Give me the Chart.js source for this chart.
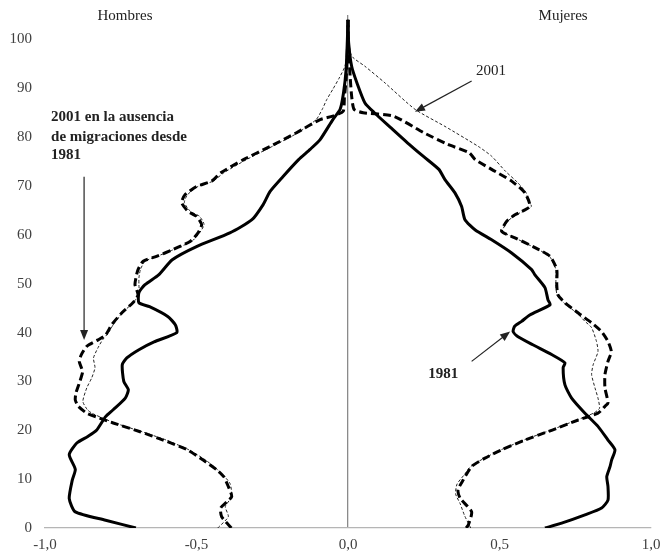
<!DOCTYPE html>
<html>
<head>
<meta charset="utf-8">
<script src="https://cdn.jsdelivr.net/npm/chart.js@4/dist/chart.umd.min.js"></script>
<style>
  body { margin: 0; background: #fff; }
  #wrap { width: 662px; height: 555px; }
</style>
</head>
<body>
<div id="wrap"><canvas id="pyramid"></canvas></div>
<script>
// Hombres (valores negativos), edad en el eje vertical
const menAge1981 = [0, 1.6, 3.3, 6, 9.8, 12, 15, 17.4, 18.7, 20, 22.8, 24.2, 26.6, 28.3, 30, 33.4, 34.8, 36.5, 38.1, 40, 41.6, 43.3, 45.3, 46.1, 48.2, 49.8, 51.8, 54.9, 57.6, 60.4, 63.1, 66.2, 68.9, 71.9, 75.4, 77.5, 79.5, 83.6, 85.7, 89, 94, 100, 104];
const men1981 = [-0.70, -0.80, -0.90, -0.92, -0.91, -0.90, -0.92, -0.895, -0.86, -0.83, -0.80, -0.775, -0.735, -0.725, -0.74, -0.745, -0.73, -0.69, -0.64, -0.565, -0.57, -0.595, -0.655, -0.69, -0.69, -0.67, -0.625, -0.58, -0.50, -0.39, -0.317, -0.28, -0.257, -0.215, -0.163, -0.125, -0.092, -0.05, -0.026, -0.015, -0.006, -0.002, 0];

const menAgeNoMig = [0, 2.3, 4.1, 6.4, 8.5, 10.5, 11.9, 13.9, 16, 18, 19.7, 21.5, 22.5, 23.5, 24.9, 26.2, 27.6, 30, 32, 34.1, 35.5, 37.2, 38.5, 39.5, 41.6, 44, 46.1, 47.7, 49.8, 51.2, 52.9, 54.6, 55.6, 57, 58.7, 60.4, 62.1, 63.8, 64.8, 66.6, 68.2, 69.9, 71, 72.7, 75.4, 78.1, 80.9, 83.6, 84.3, 85.3, 88, 92, 96, 100, 104];
const menNoMig = [-0.385, -0.417, -0.42, -0.384, -0.395, -0.41, -0.433, -0.478, -0.53, -0.61, -0.686, -0.775, -0.82, -0.862, -0.89, -0.90, -0.898, -0.885, -0.876, -0.887, -0.88, -0.862, -0.825, -0.80, -0.78, -0.747, -0.71, -0.693, -0.703, -0.70, -0.693, -0.676, -0.632, -0.577, -0.52, -0.495, -0.483, -0.50, -0.528, -0.549, -0.538, -0.50, -0.45, -0.42, -0.345, -0.257, -0.17, -0.092, -0.05, -0.016, -0.012, -0.006, -0.003, -0.001, 0];

const menAge2001 = [0, 2.3, 4.4, 6.4, 9.2, 11.9, 13.9, 16, 18, 19.7, 21.5, 22.5, 23.5, 24.2, 25.9, 28.7, 30.7, 32.8, 34.8, 36.9, 38.5, 40, 41.6, 44, 46.1, 47.7, 49.8, 51.2, 52.9, 54.6, 55.6, 57, 58.7, 60.4, 62.1, 63.8, 64.8, 66.6, 68.2, 69.9, 71, 72.7, 75.4, 78.1, 80.9, 83.6, 85.7, 87.7, 89.8, 92, 94.5, 98, 104];
const men2001 = [-0.43, -0.395, -0.405, -0.384, -0.39, -0.43, -0.47, -0.525, -0.60, -0.68, -0.77, -0.81, -0.845, -0.86, -0.875, -0.862, -0.846, -0.835, -0.84, -0.825, -0.81, -0.79, -0.775, -0.745, -0.71, -0.69, -0.69, -0.69, -0.685, -0.67, -0.63, -0.575, -0.515, -0.49, -0.475, -0.49, -0.52, -0.54, -0.53, -0.495, -0.445, -0.41, -0.335, -0.25, -0.165, -0.105, -0.085, -0.07, -0.05, -0.03, -0.01, -0.003, 0];

// Mujeres (valores positivos)
const womenAge1981 = [0, 1, 2.7, 4.1, 5.7, 8.5, 10.5, 12.6, 13.9, 16, 18, 20.8, 23.5, 26.6, 29.3, 32.8, 33.8, 35.5, 37.5, 39.2, 40.2, 41.3, 42.3, 43.6, 45.7, 46.7, 49.2, 51.8, 52.9, 56.3, 59, 61, 63.1, 65.8, 68.6, 71.3, 73.4, 76, 78.8, 82, 85, 87, 91.2, 94.5, 99.4, 104];
const women1981 = [0.65, 0.705, 0.782, 0.837, 0.858, 0.858, 0.854, 0.865, 0.87, 0.881, 0.858, 0.825, 0.782, 0.738, 0.716, 0.71, 0.716, 0.672, 0.61, 0.56, 0.545, 0.55, 0.573, 0.60, 0.667, 0.66, 0.65, 0.617, 0.606, 0.54, 0.474, 0.42, 0.386, 0.375, 0.353, 0.32, 0.30, 0.25, 0.197, 0.14, 0.087, 0.056, 0.029, 0.012, 0.002, 0];

const womenAgeNoMig = [0, 0.6, 3.3, 6.1, 7.8, 9.8, 12.6, 14.3, 16, 18, 20, 22.1, 23.5, 24.9, 25.6, 28.7, 31.4, 34.1, 36.1, 38.2, 40.2, 42, 44, 46.1, 47.7, 49.8, 52.9, 55.6, 57.4, 59.4, 60.7, 62.8, 64.1, 65.8, 68.6, 71, 73.4, 75.4, 76.8, 78.5, 80.9, 84.3, 85, 85.7, 88.4, 92.5, 97, 100, 104];
const womenNoMig = [0.39, 0.397, 0.408, 0.37, 0.363, 0.38, 0.408, 0.452, 0.507, 0.584, 0.672, 0.76, 0.825, 0.848, 0.858, 0.848, 0.848, 0.858, 0.869, 0.858, 0.837, 0.804, 0.76, 0.716, 0.693, 0.689, 0.689, 0.667, 0.617, 0.551, 0.507, 0.524, 0.551, 0.60, 0.584, 0.54, 0.474, 0.42, 0.40, 0.33, 0.25, 0.15, 0.05, 0.02, 0.012, 0.007, 0.003, 0.001, 0];

const womenAge2001 = [0, 2.5, 5, 7, 9, 11, 12.6, 14.3, 16, 18, 20, 22.1, 23.5, 24.5, 26.6, 28.7, 31.4, 33.4, 36.1, 38.2, 41, 42.3, 44, 46.1, 47.7, 49.8, 52.9, 55.6, 57.4, 59.4, 60.7, 62.8, 64.1, 65.8, 67.2, 68.6, 70.7, 73, 76.1, 78.1, 82.2, 85.7, 91.1, 94.5, 96.6, 100, 104];
const women2001 = [0.405, 0.385, 0.37, 0.355, 0.36, 0.385, 0.405, 0.45, 0.505, 0.58, 0.668, 0.755, 0.81, 0.83, 0.825, 0.815, 0.804, 0.809, 0.825, 0.82, 0.804, 0.782, 0.755, 0.712, 0.69, 0.686, 0.686, 0.665, 0.615, 0.55, 0.51, 0.527, 0.555, 0.605, 0.594, 0.588, 0.56, 0.52, 0.474, 0.43, 0.32, 0.221, 0.122, 0.056, 0.012, 0.002, 0];

const xTicks = [-1, -0.5, 0, 0.5, 1];

function pts(ages, vals) {
  return ages.map((a, i) => ({x: vals[i], y: a}));
}

Chart.defaults.font.family = "'Liberation Serif', 'Times New Roman', serif";
Chart.defaults.font.size = 15;
Chart.defaults.color = '#404040';

const solid = {borderColor: '#000', borderWidth: 3, pointRadius: 0, showLine: true, fill: false, tension: 0.2};
const dashed = {borderColor: '#000', borderWidth: 3, borderDash: [8, 4], pointRadius: 0, showLine: true, fill: false, tension: 0.2};
const dotted = {borderColor: '#222', borderWidth: 1, borderDash: [3, 2], pointRadius: 0, showLine: true, fill: false, tension: 0.2};

// flecha con punta rellena, coordenadas en pixeles
function arrow(ctx, x1, y1, x2, y2) {
  const ang = Math.atan2(y2 - y1, x2 - x1);
  ctx.beginPath();
  ctx.moveTo(x1, y1);
  ctx.lineTo(x2 - 6 * Math.cos(ang), y2 - 6 * Math.sin(ang));
  ctx.stroke();
  ctx.beginPath();
  ctx.moveTo(x2, y2);
  ctx.lineTo(x2 - 10 * Math.cos(ang) + 4 * Math.sin(ang), y2 - 10 * Math.sin(ang) - 4 * Math.cos(ang));
  ctx.lineTo(x2 - 10 * Math.cos(ang) - 4 * Math.sin(ang), y2 - 10 * Math.sin(ang) + 4 * Math.cos(ang));
  ctx.closePath();
  ctx.fill();
}

const notes = {
  id: 'notes',
  afterDraw(chart) {
    const ctx = chart.ctx;
    const sx = chart.scales.x, sy = chart.scales.y;
    const px = v => sx.getPixelForValue(v);
    const py = v => sy.getPixelForValue(v);
    ctx.save();
    ctx.fillStyle = '#222';
    ctx.strokeStyle = '#222';
    ctx.lineWidth = 1.2;
    ctx.textBaseline = 'middle';

    ctx.font = "15px 'Liberation Serif'";
    ctx.textAlign = 'center';
    ctx.fillText('Hombres', px(-0.736), 16);
    ctx.fillText('Mujeres', px(0.71), 16);
    ctx.fillText('2001', px(0.472), py(93.6));

    ctx.font = "bold 15px 'Liberation Serif'";
    ctx.fillText('1981', px(0.314), py(31.4));
    ctx.textAlign = 'left';
    ctx.fillText('2001 en la ausencia', px(-0.98), py(84));
    ctx.fillText('de migraciones desde', px(-0.98), py(80.1));
    ctx.fillText('1981', px(-0.98), py(76.3));

    arrow(ctx, px(0.408), py(91.5), px(0.221), py(85.2));
    arrow(ctx, px(-0.871), py(71.9), px(-0.871), py(38.5));
    arrow(ctx, px(0.408), py(34.1), px(0.535), py(40.2));
    ctx.restore();
  }
};

new Chart(document.getElementById('pyramid'), {
  type: 'scatter',
  data: {
    datasets: [
      Object.assign({label: 'Hombres 1981', data: pts(menAge1981, men1981)}, solid),
      Object.assign({label: 'Hombres 2001 sin migraciones', data: pts(menAgeNoMig, menNoMig)}, dashed),
      Object.assign({label: 'Hombres 2001', data: pts(menAge2001, men2001)}, dotted),
      Object.assign({label: 'Mujeres 1981', data: pts(womenAge1981, women1981)}, solid),
      Object.assign({label: 'Mujeres 2001 sin migraciones', data: pts(womenAgeNoMig, womenNoMig)}, dashed),
      Object.assign({label: 'Mujeres 2001', data: pts(womenAge2001, women2001)}, dotted)
    ]
  },
  options: {
    responsive: true,
    maintainAspectRatio: false,
    animation: false,
    layout: { padding: { top: 15, right: 11, bottom: 1, left: 0 } },
    plugins: { legend: { display: false }, tooltip: { enabled: false } },
    scales: {
      x: {
        type: 'linear',
        min: -1,
        max: 1,
        afterBuildTicks: axis => { axis.ticks = xTicks.map(v => ({value: v})); },
        afterFit: axis => { axis.height = 26; axis.paddingLeft = 0; axis.paddingRight = 0; },
        ticks: {
          padding: 8,
          maxRotation: 0,
          callback: v => v.toFixed(1).replace('.', ',')
        },
        grid: {
          drawTicks: false,
          color: c => (c.tick && c.tick.value === 0) ? '#8a8a8a' : 'rgba(0,0,0,0)',
          lineWidth: 1.3
        },
        border: { color: '#b5b5b5', width: 1.3 }
      },
      y: {
        min: 0,
        max: 105,
        afterFit: axis => { axis.width = 45; axis.paddingTop = 0; axis.paddingBottom = 0; },
        ticks: { stepSize: 10, includeBounds: false, padding: 13 },
        grid: { display: false, drawTicks: false },
        border: { display: false }
      }
    }
  },
  plugins: [notes]
});
</script>
</body>
</html>
